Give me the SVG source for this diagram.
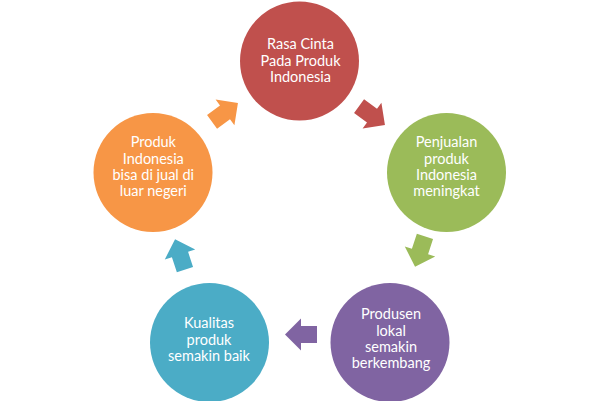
<svg xmlns="http://www.w3.org/2000/svg" width="600" height="401" viewBox="0 0 600 401">
<defs>
<style>
.t{font-family:Lato,"Open Sans","Liberation Sans",sans-serif;font-size:14.5px;fill:#ffffff;text-anchor:middle}
</style>
<path id="arr" d="M-16,-8.5 L0,-8.5 L0,-16 L16,0 L0,16 L0,8.5 L-16,8.5 Z"/>
</defs>
<rect width="600" height="401" fill="#ffffff"/>
<g id="connectors">
<use href="#arr" fill="#C0504D" transform="translate(372,115.6) rotate(36)"/>
<use href="#arr" fill="#9BBB59" transform="translate(420,251.5) rotate(108)"/>
<use href="#arr" fill="#8064A2" transform="translate(301,334.5) rotate(180)"/>
<use href="#arr" fill="#4BACC6" transform="translate(180,254.5) rotate(252)"/>
<use href="#arr" fill="#F79646" transform="translate(225,112.4) rotate(-36)"/>
</g>
<g id="node-rasa">
<circle cx="299.5" cy="61" r="59.5" fill="#C0504D"/>
<text class="t" x="300.5" y="49.3">Rasa Cinta</text>
<text class="t" x="300.5" y="65.5">Pada Produk</text>
<text class="t" x="300.5" y="81.7">Indonesia</text>
</g>
<g id="node-penjualan">
<circle cx="446.5" cy="172.5" r="59.5" fill="#9BBB59"/>
<text class="t" x="446.5" y="147.3">Penjualan</text>
<text class="t" x="446.5" y="163.5">produk</text>
<text class="t" x="446.5" y="179.7">Indonesia</text>
<text class="t" x="446.5" y="196">meningkat</text>
</g>
<g id="node-produsen">
<circle cx="390" cy="342.5" r="59.5" fill="#8064A2"/>
<text class="t" x="391" y="319.3">Produsen</text>
<text class="t" x="391" y="335.6">lokal</text>
<text class="t" x="391" y="352">semakin</text>
<text class="t" x="391" y="368.3">berkembang</text>
</g>
<g id="node-kualitas">
<circle cx="209.5" cy="342.5" r="59.5" fill="#4BACC6"/>
<text class="t" x="209" y="328.3">Kualitas</text>
<text class="t" x="209" y="344.5">produk</text>
<text class="t" x="209" y="360.7">semakin baik</text>
</g>
<g id="node-luar">
<circle cx="153" cy="172.5" r="59.5" fill="#F79646"/>
<text class="t" x="153.3" y="147.3">Produk</text>
<text class="t" x="153.3" y="163.5">Indonesia</text>
<text class="t" x="153.3" y="179.7">bisa di jual di</text>
<text class="t" x="153.3" y="196">luar negeri</text>
</g>
</svg>
